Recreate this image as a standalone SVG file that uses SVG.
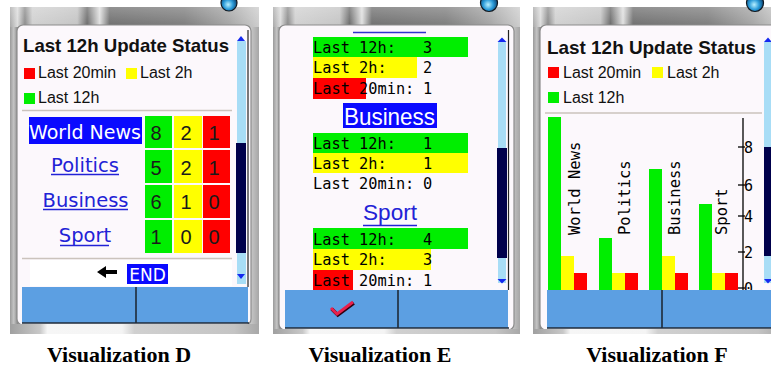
<svg xmlns="http://www.w3.org/2000/svg" width="771" height="369" viewBox="0 0 771 369">
<defs>
<style>
.title{font-family:"Liberation Sans",Arial,sans-serif;font-weight:bold;font-size:18.5px;fill:#111}
.lg{font-family:"Liberation Sans",Arial,sans-serif;font-size:16px;fill:#111}
.lnk{font-family:"DejaVu Sans",Verdana,sans-serif;font-size:19.5px;fill:#2222d6}
.lnkW{font-family:"DejaVu Sans",Verdana,sans-serif;font-size:19.5px;fill:#fff}
.num{font-family:"Liberation Sans",Arial,sans-serif;font-size:20px;fill:#1a1a1a;text-anchor:middle}
.mono{font-family:"DejaVu Sans Mono","Liberation Mono",monospace;font-size:15.3px;fill:#000}
.rot{font-family:"DejaVu Sans Mono","Liberation Mono",monospace;font-size:15.5px;fill:#000}
.tick{font-family:"DejaVu Sans Mono","Liberation Mono",monospace;font-size:15px;fill:#000}
.cap{font-family:"Liberation Serif","Times New Roman",serif;font-weight:bold;font-size:22px;fill:#000;text-anchor:middle}
.g{fill:#00ee00}.y{fill:#ffff00}.r{fill:#ff0000}
.sep{stroke:#cbc3bd;stroke-width:1.5}
.ul{stroke:#2222d6;stroke-width:1.5}
.screen{fill:#fcf8fc;stroke:#8c8c8c;stroke-width:1.2}
.bar{fill:#5c9fe2}
.div{stroke:#1e2a38;stroke-width:1.6}
.sb{fill:#a8ddf6}
.thumb{fill:#00004c}
.arr{fill:#1428f0}
.frame{fill:url(#sideG)}
.top{fill:url(#topG)}
.shade{fill:url(#shadeG)}
.ball{fill:url(#ballG);stroke:#101820;stroke-width:1.2}
.bot{fill:url(#botG)}
</style>
<linearGradient id="sideG" x1="0" y1="0" x2="1" y2="0">
<stop offset="0" stop-color="#9a9a9a"/><stop offset="0.015" stop-color="#c4c4c4"/><stop offset="0.03" stop-color="#8c8c8c"/><stop offset="0.05" stop-color="#d2d2d2"/><stop offset="0.95" stop-color="#d8d8d8"/><stop offset="1" stop-color="#a6a6a6"/>
</linearGradient>
<linearGradient id="topG" x1="0" y1="0" x2="1" y2="0">
<stop offset="0" stop-color="#a8a8a8"/><stop offset="0.03" stop-color="#dcdcdc"/><stop offset="0.06" stop-color="#8a8a8a"/><stop offset="0.09" stop-color="#d0d0d0"/><stop offset="0.27" stop-color="#c4c4c4"/><stop offset="0.31" stop-color="#6a6a6a"/><stop offset="0.36" stop-color="#e0e0e0"/><stop offset="0.4" stop-color="#6e6e6e"/><stop offset="0.7" stop-color="#7c7c7c"/><stop offset="0.88" stop-color="#a4a4a4"/><stop offset="1" stop-color="#cccccc"/>
</linearGradient>
<linearGradient id="shadeG" x1="0" y1="0" x2="0" y2="1">
<stop offset="0" stop-color="#fff" stop-opacity="0.25"/><stop offset="1" stop-color="#fff" stop-opacity="0"/>
</linearGradient>
<linearGradient id="botG" x1="0" y1="0" x2="1" y2="0">
<stop offset="0" stop-color="#a0a0a0"/><stop offset="0.12" stop-color="#c8c8c8"/><stop offset="0.15" stop-color="#f6f6f6"/><stop offset="0.45" stop-color="#f4f4f4"/><stop offset="0.5" stop-color="#d0d0d0"/><stop offset="0.9" stop-color="#c4c4c4"/><stop offset="1" stop-color="#a8a8a8"/>
</linearGradient>
<radialGradient id="ballG" cx="0.45" cy="0.6" r="0.6">
<stop offset="0" stop-color="#b8f0ff"/><stop offset="0.5" stop-color="#2a9ad8"/><stop offset="1" stop-color="#0a3a66"/>
</radialGradient>
</defs>
<rect x="0" y="0" width="771" height="369" fill="#fff"/>

<!-- Visualization D -->
<g id="vizD">
<rect class="frame" x="10" y="7" width="249" height="327"/>
<rect class="top" x="10" y="7" width="249" height="20"/>
<rect class="shade" x="10" y="7" width="249" height="20"/>
<circle class="ball" cx="229" cy="3" r="8"/>
<rect class="screen" x="17" y="25" width="234" height="300" rx="6"/>
<text class="title" x="23" y="52" textLength="206" lengthAdjust="spacingAndGlyphs">Last 12h Update Status</text>
<rect class="r" x="24" y="68" width="11" height="11"/>
<text class="lg" x="38" y="78">Last 20min</text>
<rect class="y" x="126" y="68" width="11" height="11"/>
<text class="lg" x="140" y="78">Last 2h</text>
<rect class="g" x="24" y="93" width="11" height="11"/>
<text class="lg" x="38" y="103">Last 12h</text>
<line class="sep" x1="22" y1="110.5" x2="232" y2="110.5"/>
<rect x="29" y="117" width="113" height="27" fill="#0a0aff"/>
<text class="lnkW" x="85" y="139" text-anchor="middle" textLength="112" lengthAdjust="spacingAndGlyphs">World News</text>
<text class="lnk" x="85" y="172" text-anchor="middle">Politics</text>
<line class="ul" x1="51" y1="174.5" x2="119" y2="174.5"/>
<text class="lnk" x="85.5" y="207" text-anchor="middle">Business</text>
<line class="ul" x1="43" y1="209.5" x2="128" y2="209.5"/>
<text class="lnk" x="85" y="242" text-anchor="middle">Sport</text>
<line class="ul" x1="60" y1="245.5" x2="109" y2="245.5"/>
<rect class="g" x="145" y="116" width="27" height="32"/>
<rect class="y" x="174" y="116" width="28" height="32"/>
<rect class="r" x="203" y="116" width="27" height="32"/>
<rect class="g" x="145" y="150" width="27" height="33"/>
<rect class="y" x="174" y="150" width="28" height="33"/>
<rect class="r" x="203" y="150" width="27" height="33"/>
<rect class="g" x="145" y="185" width="27" height="33"/>
<rect class="y" x="174" y="185" width="28" height="33"/>
<rect class="r" x="203" y="185" width="27" height="33"/>
<rect class="g" x="145" y="220" width="27" height="33"/>
<rect class="y" x="174" y="220" width="28" height="33"/>
<rect class="r" x="203" y="220" width="27" height="33"/>
<text class="num" x="156" y="140">8</text><text class="num" x="186" y="140">2</text><text class="num" x="214" y="140">1</text>
<text class="num" x="156" y="175">5</text><text class="num" x="186" y="175">2</text><text class="num" x="214" y="175">1</text>
<text class="num" x="156" y="209">6</text><text class="num" x="186" y="209">1</text><text class="num" x="214" y="209">0</text>
<text class="num" x="156" y="244">1</text><text class="num" x="186" y="244">0</text><text class="num" x="214" y="244">0</text>
<line class="sep" x1="22" y1="258.5" x2="232" y2="258.5"/>
<rect x="30" y="260" width="202" height="26" fill="#ffffff"/>
<path d="M97 272 L106 266 L106 270 L117 270 L117 274 L106 274 L106 278 Z" fill="#000"/>
<rect x="127" y="264" width="41" height="20" fill="#0a0aff"/>
<text class="lnkW" x="147.5" y="281" text-anchor="middle" style="font-size:17px">END</text>
<rect class="sb" x="237" y="41" width="9" height="243"/>
<rect class="thumb" x="236" y="143" width="10" height="110"/>
<path class="arr" d="M237 41 L241 36 L245 41 Z"/>
<path class="arr" d="M237 274 L245 274 L241 279 Z"/>
<line x1="248" y1="30" x2="248" y2="287" stroke="#222" stroke-width="1.2"/>
<rect class="bar" x="22" y="287" width="226" height="36"/>
<line class="div" x1="136" y1="287" x2="136" y2="323"/>
<line x1="22" y1="323" x2="249" y2="323" stroke="#1e2a38" stroke-width="1.6"/>
<rect class="bot" x="10" y="324" width="249" height="10"/>
</g>

<!-- Visualization E -->
<g id="vizE">
<rect class="frame" x="273" y="7" width="247" height="327"/>
<rect class="top" x="273" y="7" width="247" height="20"/>
<rect class="shade" x="273" y="7" width="247" height="20"/>
<circle class="ball" cx="489" cy="3" r="8.5"/>
<rect class="screen" x="279" y="25" width="235" height="305" rx="6"/>
<line x1="353" y1="32.5" x2="426" y2="32.5" stroke="#3030d0" stroke-width="1.5"/>
<rect class="g" x="313" y="37" width="155" height="20"/>
<rect class="y" x="313" y="57" width="104" height="21"/>
<rect class="r" x="313" y="78" width="53" height="21"/>
<text class="mono" x="313" y="53">Last 12h:</text><text class="mono" x="423" y="53">3</text>
<text class="mono" x="313" y="73">Last 2h:</text><text class="mono" x="423" y="73">2</text>
<text class="mono" x="313" y="94">Last 20min:</text><text class="mono" x="423" y="94">1</text>
<rect x="343" y="103" width="94" height="25" fill="#0a0aff"/>
<text x="344" y="125" fill="#fff" style="font-family:'Liberation Sans',Arial,sans-serif;font-size:24px" textLength="91" lengthAdjust="spacingAndGlyphs">Business</text>
<rect class="g" x="313" y="133" width="155" height="20"/>
<rect class="y" x="313" y="153" width="155" height="20"/>
<text class="mono" x="313" y="149">Last 12h:</text><text class="mono" x="423" y="149">1</text>
<text class="mono" x="313" y="169">Last 2h:</text><text class="mono" x="423" y="169">1</text>
<text class="mono" x="313" y="189">Last 20min:</text><text class="mono" x="423" y="189">0</text>
<text x="363" y="220" fill="#2222d6" style="font-family:'Liberation Sans',Arial,sans-serif;font-size:22px" textLength="54" lengthAdjust="spacingAndGlyphs">Sport</text>
<line class="ul" x1="363" y1="225.5" x2="417" y2="225.5"/>
<rect class="g" x="313" y="228" width="155" height="21"/>
<rect class="y" x="313" y="249" width="118" height="21"/>
<rect class="r" x="313" y="270" width="40" height="20"/>
<text class="mono" x="313" y="245">Last 12h:</text><text class="mono" x="423" y="245">4</text>
<text class="mono" x="313" y="265">Last 2h:</text><text class="mono" x="423" y="265">3</text>
<text class="mono" x="313" y="286">Last 20min:</text><text class="mono" x="423" y="286">1</text>
<rect class="sb" x="498" y="42" width="8" height="241"/>
<rect class="thumb" x="497" y="148" width="10" height="110"/>
<path class="arr" d="M497.5 42 L502 37.5 L506.5 42 Z"/>
<path class="arr" d="M497.5 279 L506.5 279 L502 283.5 Z"/>
<line x1="508.5" y1="30" x2="508.5" y2="290" stroke="#222" stroke-width="1.2"/>
<rect class="bar" x="285" y="290" width="223" height="38"/>
<line class="div" x1="398" y1="290" x2="398" y2="328"/>
<path d="M331 308 L337 314 L353 302" fill="none" stroke="#300010" stroke-width="3.5" transform="translate(0.8,1)"/>
<path d="M331 308 L337 314 L353 302" fill="none" stroke="#e8204c" stroke-width="3"/>
<line x1="285" y1="328" x2="509" y2="328" stroke="#1e2a38" stroke-width="1.6"/>
<rect class="bot" x="273" y="329" width="247" height="5"/>
</g>

<!-- Visualization F -->
<g id="vizF">
<rect class="frame" x="533" y="7" width="250" height="327"/>
<rect class="top" x="533" y="7" width="250" height="20"/>
<rect class="shade" x="533" y="7" width="250" height="20"/>
<circle class="ball" cx="755" cy="3" r="8.5"/>
<rect class="screen" x="540" y="25" width="245" height="305" rx="6"/>
<text class="title" x="547" y="54" textLength="209" lengthAdjust="spacingAndGlyphs">Last 12h Update Status</text>
<rect class="r" x="548" y="67" width="11" height="11"/>
<text class="lg" x="563" y="78">Last 20min</text>
<rect class="y" x="652" y="67" width="11" height="11"/>
<text class="lg" x="667" y="78">Last 2h</text>
<rect class="g" x="548" y="92" width="11" height="11"/>
<text class="lg" x="563" y="103">Last 12h</text>
<line class="sep" x1="545" y1="113" x2="762" y2="113"/>
<rect class="g" x="548" y="117" width="13" height="173"/>
<rect class="y" x="561" y="256" width="13" height="34"/>
<rect class="r" x="574" y="273" width="13" height="17"/>
<rect class="g" x="599" y="238" width="13" height="52"/>
<rect class="y" x="612" y="273" width="13" height="17"/>
<rect class="r" x="625" y="273" width="13" height="17"/>
<rect class="g" x="649" y="169" width="13" height="121"/>
<rect class="y" x="662" y="256" width="13" height="34"/>
<rect class="r" x="675" y="273" width="13" height="17"/>
<rect class="g" x="699" y="204" width="13" height="86"/>
<rect class="y" x="712" y="273" width="13" height="17"/>
<rect class="r" x="725" y="273" width="13" height="17"/>
<text class="rot" transform="translate(580,235) rotate(-90)">World News</text>
<text class="rot" transform="translate(630,235) rotate(-90)">Politics</text>
<text class="rot" transform="translate(680,235) rotate(-90)">Business</text>
<text class="rot" transform="translate(727,235) rotate(-90)">Sport</text>
<line x1="743" y1="118" x2="743" y2="290" stroke="#000" stroke-width="1.3"/>
<g stroke="#000" stroke-width="1.3">
<line x1="738" y1="147" x2="745" y2="147"/>
<line x1="738" y1="185" x2="745" y2="185"/>
<line x1="738" y1="216" x2="745" y2="216"/>
<line x1="738" y1="252" x2="745" y2="252"/>
<line x1="738" y1="288" x2="745" y2="288"/>
</g>
<text class="tick" x="744" y="152.5">8</text>
<text class="tick" x="744" y="190.5">6</text>
<text class="tick" x="744" y="221.5">4</text>
<text class="tick" x="744" y="257.5">2</text>
<text class="tick" x="744" y="293.5">0</text>
<rect class="sb" x="764" y="42" width="7" height="241"/>
<rect class="thumb" x="764" y="147" width="7" height="109"/>
<path class="arr" d="M764 42 L768 37.5 L772 42 Z"/>
<path class="arr" d="M764 279 L772 279 L768 283.5 Z"/>
<rect class="bar" x="547" y="290" width="224" height="38"/>
<line class="div" x1="662" y1="290" x2="662" y2="328"/>
<line x1="547" y1="328" x2="771" y2="328" stroke="#1e2a38" stroke-width="1.6"/>
<rect class="bot" x="533" y="329" width="250" height="5"/>
</g>

<g id="captions">
<text class="cap" x="119" y="362">Visualization D</text>
<text class="cap" x="380" y="362">Visualization E</text>
<text class="cap" x="657" y="362">Visualization F</text>
</g>
</svg>
